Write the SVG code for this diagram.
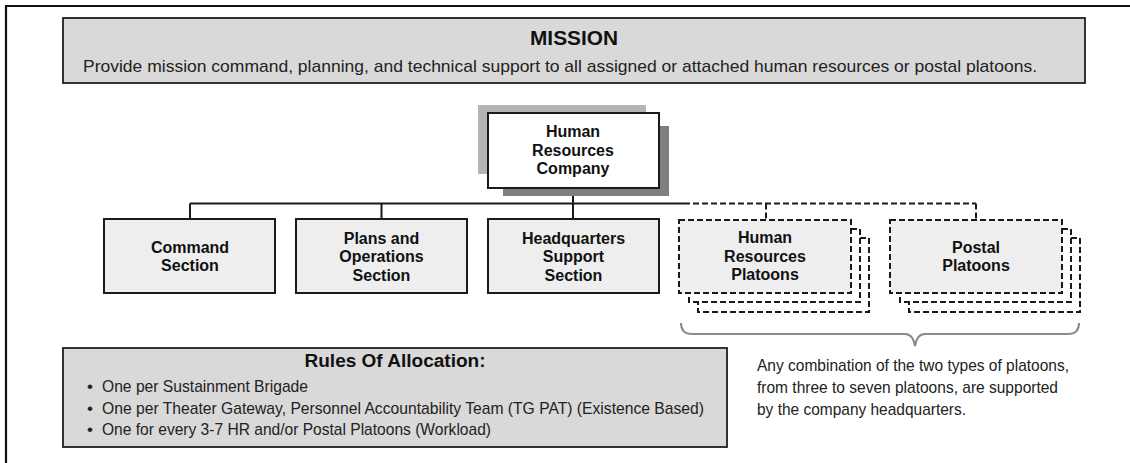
<svg xmlns="http://www.w3.org/2000/svg" width="1130" height="463" viewBox="0 0 1130 463">
<style>
.frame{fill:none;stroke:#111;stroke-width:2.2}
.band{fill:#d9d9d9;stroke:#1e1e1e;stroke-width:1.8}
.box{fill:#eeeeee;stroke:#1a1a1a;stroke-width:2}
.wbox{fill:#ffffff;stroke:#1a1a1a;stroke-width:2}
.dbox{fill:#eeeeee;stroke:#1a1a1a;stroke-width:2;stroke-dasharray:6 3}
.dback{fill:#ffffff;stroke:#1a1a1a;stroke-width:2;stroke-dasharray:6 3}
.lbl{font-family:"Liberation Sans",Arial,sans-serif;font-weight:bold;font-size:16px;fill:#111;text-anchor:middle}
.hd{font-family:"Liberation Sans",Arial,sans-serif;font-weight:bold;fill:#111;text-anchor:middle}
.body{font-family:"Liberation Sans Narrow","Liberation Sans",Arial,sans-serif;font-size:17px;fill:#222}
.conn{fill:none;stroke:#1a1a1a;stroke-width:2}
.dconn{fill:none;stroke:#1a1a1a;stroke-width:2;stroke-dasharray:6 3}
.brace{fill:none;stroke:#8a8a8a;stroke-width:2}
</style>
<path class="frame" d="M6,463 V6 H1130"/>
<g id="mission">
<rect class="band" x="63" y="18" width="1022" height="65"/>
<text class="hd" x="574" y="45" font-size="21" textLength="88" lengthAdjust="spacingAndGlyphs">MISSION</text>
<text class="body" x="83" y="72" font-size="20" textLength="954" lengthAdjust="spacingAndGlyphs">Provide mission command, planning, and technical support to all assigned or attached human resources or postal platoons.</text>
</g>
<g id="connectors">
<path class="conn" d="M573,188 V219 M190,203.5 H684 M190,203.5 V219 M381.5,203.5 V219"/>
<path class="dconn" d="M684,203.5 H976 M766,203.5 V220 M976,203.5 V220"/>
</g>
<g id="hr-company">
<rect x="478" y="105" width="168" height="69" fill="#b4b4b4"/>
<rect x="503" y="126" width="166" height="70" fill="#7f7f7f"/>
<rect class="wbox" x="488" y="113" width="171" height="75"/>
<text class="lbl" x="573" y="137">Human</text>
<text class="lbl" x="573" y="156">Resources</text>
<text class="lbl" x="573" y="174">Company</text>
</g>
<g id="command-section">
<rect class="box" x="104" y="219" width="171" height="74"/>
<text class="lbl" x="190" y="252.7">Command</text>
<text class="lbl" x="190" y="271">Section</text>
</g>
<g id="plans-operations-section">
<rect class="box" x="296" y="219" width="171" height="74"/>
<text class="lbl" x="381.5" y="243.5">Plans and</text>
<text class="lbl" x="381.5" y="262">Operations</text>
<text class="lbl" x="381.5" y="280.5">Section</text>
</g>
<g id="hq-support-section">
<rect class="box" x="488" y="219" width="171" height="74"/>
<text class="lbl" x="573.5" y="243.5">Headquarters</text>
<text class="lbl" x="573.5" y="262">Support</text>
<text class="lbl" x="573.5" y="280.5">Section</text>
</g>
<g id="hr-platoons">
<rect class="dback" x="698" y="238" width="171" height="74"/>
<rect class="dback" x="689" y="229" width="171" height="73"/>
<rect class="dbox" x="679" y="220" width="172" height="73"/>
<text class="lbl" x="765" y="243">Human</text>
<text class="lbl" x="765" y="261.7">Resources</text>
<text class="lbl" x="765" y="280">Platoons</text>
</g>
<g id="postal-platoons">
<rect class="dback" x="909" y="238" width="171" height="74"/>
<rect class="dback" x="900" y="229" width="171" height="73"/>
<rect class="dbox" x="890" y="220" width="172" height="73"/>
<text class="lbl" x="976" y="252.7">Postal</text>
<text class="lbl" x="976" y="271">Platoons</text>
</g>
<g id="brace-note">
<path class="brace" d="M681,323 Q681,334 692,334 H905 Q913,334 915,346 Q917,334 925,334 H1068 Q1079,334 1079,323"/>
<text class="body" x="757" y="371" textLength="312" lengthAdjust="spacingAndGlyphs">Any combination of the two types of platoons,</text>
<text class="body" x="757" y="393" textLength="301" lengthAdjust="spacingAndGlyphs">from three to seven platoons, are supported</text>
<text class="body" x="757" y="415" textLength="209" lengthAdjust="spacingAndGlyphs">by the company headquarters.</text>
</g>
<g id="rules">
<rect class="band" x="63" y="348" width="664" height="99" stroke-width="2.2"/>
<text class="hd" x="395" y="367" font-size="18" textLength="181" lengthAdjust="spacingAndGlyphs">Rules Of Allocation:</text>
<text class="body" x="87" y="391.5" font-size="13">•</text>
<text class="body" x="102" y="391.5" textLength="206" lengthAdjust="spacingAndGlyphs">One per Sustainment Brigade</text>
<text class="body" x="87" y="413.5" font-size="13">•</text>
<text class="body" x="102" y="413.5" textLength="602" lengthAdjust="spacingAndGlyphs">One per Theater Gateway, Personnel Accountability Team (TG PAT) (Existence Based)</text>
<text class="body" x="87" y="435" font-size="13">•</text>
<text class="body" x="102" y="435" textLength="389" lengthAdjust="spacingAndGlyphs">One for every 3-7 HR and/or Postal Platoons (Workload)</text>
</g>
</svg>
